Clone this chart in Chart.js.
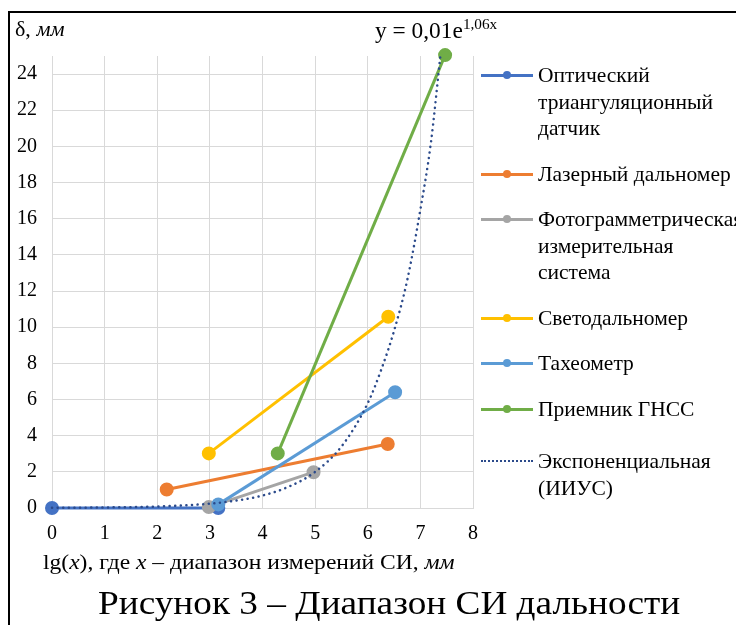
<!DOCTYPE html>
<html lang="ru">

<head>
    <meta charset="UTF-8">
    <title>Диапазон СИ дальности</title>
    <script src="https://cdn.jsdelivr.net/npm/chart.js@4.4.1/dist/chart.umd.min.js"></script>
    <style>
        body { margin: 0; width: 736px; height: 625px; overflow: hidden; position: relative; background: #fff;
               font-family: 'Liberation Serif', 'Times New Roman', serif; color: #000; }
        #frame { position: absolute; left: 8px; top: 11px; width: 800px; height: 700px;
                 border-left: 2px solid #000; border-top: 2px solid #000; }
        canvas { position: absolute; left: 0; top: 0; }
        .txt { position: absolute; white-space: nowrap; transform-origin: 0 0; }
        #legend { position: absolute; left: 481px; top: 62px; }
        .item { position: relative; margin-bottom: 19px; }
        .item.trend { padding-top: 7px; }
        .item .lbl { margin-left: 57px; font-size: 21.5px; line-height: 26.5px; white-space: pre; }
        .item .mk { position: absolute; left: 0; top: 12px; width: 52px; height: 0; }
        .item.trend .mk { top: 19px; }
        .item .dot { position: absolute; left: 22px; top: 9px; width: 8px; height: 8px; border-radius: 50%; }
    </style>
</head>

<body>
    <div id="frame"></div>
    <canvas id="chart" width="736" height="625"></canvas>

    <div class="txt" style="left:15px; top:16px; font-size:22px;">δ, <i>мм</i></div>
    <div class="txt fit" data-w="122" style="left:375px; top:16px; font-size:23px;">y = 0,01e<sup style="font-size:15px;">1,06x</sup></div>
    <div class="txt fit" data-w="412" style="left:43px; top:549px; font-size:22px;">lg(<i>x</i>), где <i>x</i> – диапазон измерений СИ, <i>мм</i></div>
    <div class="txt fit" data-w="582" style="left:98px; top:584px; font-size:34px;">Рисунок 3 – Диапазон СИ дальности</div>
    <div id="legend"></div>

    <script>
        // серии (lg(x), δ)
        const seriesNames = [
            'Оптический\nтриангуляционный\nдатчик',
            'Лазерный дальномер',
            'Фотограмметрическая\nизмерительная\nсистема',
            'Светодальномер',
            'Тахеометр',
            'Приемник ГНСС'
        ];
        const seriesColors = ['#4472C4', '#ED7D31', '#A5A5A5', '#FFC000', '#5B9BD5', '#70AD47'];

        const opticX = [0, 3.16];     const opticY = [0, 0];
        const laserX = [2.18, 6.38];  const laserY = [1.02, 3.54];
        const photoX = [2.98, 4.97];  const photoY = [0.05, 1.98];
        const lightX = [2.98, 6.39];  const lightY = [3.02, 10.58];
        const tachX = [3.16, 6.52];   const tachY = [0.2, 6.4];
        const gnssX = [4.29, 7.47];   const gnssY = [3.02, 25.05];

        // экспоненциальная линия тренда (ИИУС)
        const trendName = 'Экспоненциальная\n(ИИУС)';
        const trendColor = '#2B4A8B';
        const trendX = [0, 1, 2, 3, 3.5, 4, 4.5, 5, 5.5, 6, 6.25, 6.5, 6.75, 7, 7.2, 7.38];
        const trendY = [0.01, 0.03, 0.08, 0.24, 0.41, 0.69, 1.18, 2.0, 3.4, 5.8, 7.6, 9.8, 12.6, 16.5, 20.2, 25.0];

        const xTicks = { min: 0, max: 8, step: 1 };
        const yTicks = { min: 0, max: 25, step: 2 };

        const allX = [opticX, laserX, photoX, lightX, tachX, gnssX];
        const allY = [opticY, laserY, photoY, lightY, tachY, gnssY];

        const toPts = (xs, ys) => xs.map((x, i) => ({ x: x, y: ys[i] }));

        const datasets = seriesNames.map((name, i) => ({
            label: name,
            data: toPts(allX[i], allY[i]),
            showLine: true,
            borderColor: seriesColors[i],
            backgroundColor: seriesColors[i],
            borderWidth: 3,
            pointRadius: 5.5,
            pointHoverRadius: 5.5,
            clip: false,
            order: 6 - i
        }));
        datasets.push({
            label: trendName,
            data: toPts(trendX, trendY),
            showLine: true,
            borderColor: trendColor,
            borderWidth: 2.5,
            borderDash: [0.1, 5.5],
            borderCapStyle: 'round',
            pointRadius: 0,
            cubicInterpolationMode: 'monotone',
            clip: false,
            order: 0
        });

        const tickFont = { family: "'Liberation Serif', 'Times New Roman', serif", size: 20 };
        const gridColor = '#d9d9d9';

        new Chart(document.getElementById('chart'), {
            type: 'scatter',
            data: { datasets: datasets },
            options: {
                responsive: false,
                animation: false,
                events: [],
                layout: { padding: { left: 0, top: 56, right: 263, bottom: 77 } },
                plugins: { legend: { display: false }, tooltip: { enabled: false } },
                scales: {
                    x: {
                        type: 'linear', min: xTicks.min, max: xTicks.max,
                        ticks: { stepSize: xTicks.step, color: '#000', font: tickFont, padding: 14 },
                        grid: { color: gridColor, drawTicks: false },
                        border: { color: gridColor },
                        afterFit: s => { s.height = 40; }
                    },
                    y: {
                        min: yTicks.min, max: yTicks.max,
                        ticks: { stepSize: yTicks.step, includeBounds: false, color: '#000', font: tickFont, padding: 15 },
                        grid: { color: gridColor, drawTicks: false },
                        border: { color: gridColor },
                        afterFit: s => { s.width = 52; }
                    }
                }
            }
        });

        // легенда
        const legend = document.getElementById('legend');
        const addItem = (name, color, dotted) => {
            const it = document.createElement('div');
            it.className = dotted ? 'item trend' : 'item';
            const mk = document.createElement('div');
            mk.className = 'mk';
            mk.style.borderTop = dotted ? '2.5px dotted ' + color : '3px solid ' + color;
            it.appendChild(mk);
            if (!dotted) {
                const d = document.createElement('div');
                d.className = 'dot';
                d.style.background = color;
                it.appendChild(d);
            }
            const l = document.createElement('div');
            l.className = 'lbl';
            l.textContent = name;
            it.appendChild(l);
            legend.appendChild(it);
        };
        seriesNames.forEach((n, i) => addItem(n, seriesColors[i], false));
        addItem(trendName, trendColor, true);

        // подогнать ширину подписей как на рисунке
        document.querySelectorAll('.fit').forEach(el => {
            el.style.transform = 'scaleX(' + (el.dataset.w / el.offsetWidth) + ')';
        });
    </script>
</body>

</html>
